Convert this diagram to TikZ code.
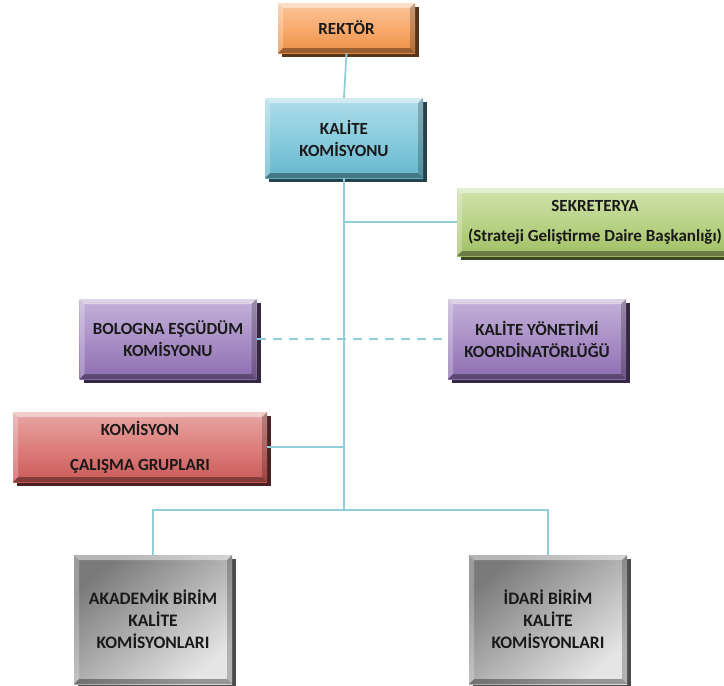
\documentclass[tikz,border=0pt]{standalone}
\usepackage{fontspec}
\setmainfont{Carlito}
\usetikzlibrary{calc,shadows}
\definecolor{lineblue}{HTML}{92CDDC}
\definecolor{corange}{HTML}{F7964A}
\definecolor{cblue}{HTML}{6CC0D6}
\definecolor{cgreen}{HTML}{A9C96A}
\definecolor{cpurple}{HTML}{9474B8}
\definecolor{cred}{HTML}{D45F5C}
\tikzset{
  bevel/.style={path picture={
    \coordinate (pbnw) at (path picture bounding box.north west);
    \coordinate (pbne) at (path picture bounding box.north east);
    \coordinate (pbsw) at (path picture bounding box.south west);
    \coordinate (pbse) at (path picture bounding box.south east);
    \fill[white,opacity=.45] (pbnw) -- (pbne) -- ($(pbne)+(-5,5)$) -- ($(pbnw)+(5,5)$) -- cycle;
    \fill[white,opacity=.25] (pbnw) -- (pbsw) -- ($(pbsw)+(5,-5)$) -- ($(pbnw)+(5,5)$) -- cycle;
    \fill[black,opacity=.22] (pbne) -- (pbse) -- ($(pbse)+(-5,-5)$) -- ($(pbne)+(-5,5)$) -- cycle;
    \fill[black,opacity=.35] (pbsw) -- (pbse) -- ($(pbse)+(-5,-5)$) -- ($(pbsw)+(5,-5)$) -- cycle;
  }},
  orgbox/.style 2 args={rectangle, inner sep=0pt, align=center, text=black!90,
    font=\fontsize{17}{22}\selectfont\bfseries,
    top color=#1!55!white, bottom color=#1!95!black, middle color=#1!80!white,
    drop shadow={shadow xshift=4pt, shadow yshift=-4pt, fill=#1!35!black, opacity=1},
    bevel, #2},
  graybox/.style={rectangle, inner sep=0pt, align=center, text=black!90,
    font=\fontsize{17.5}{22}\selectfont\bfseries,
    top color=black!52, middle color=black!35, bottom color=black!10, shading angle=40,
    drop shadow={shadow xshift=4pt, shadow yshift=-4pt, fill=black!70, opacity=1},
    bevel},
  conn/.style={draw=lineblue, line width=1.8pt},
}
\begin{document}
\begin{tikzpicture}[x=1pt,y=-1pt]
\useasboundingbox (0,0) rectangle (724,686);
\clip (0,0) rectangle (724,686);
% nodes
\node[orgbox={corange}{minimum width=137pt, minimum height=50pt}] (rektor) at (346.5,28) {REKTÖR};
\node[orgbox={cblue}{minimum width=158pt, minimum height=80pt}] (kalite) at (344,138) {KALİTE\\KOMİSYONU};
\node[orgbox={cgreen}{minimum width=276pt, minimum height=68pt}] (sek) at (595,222) {SEKRETERYA\\[8pt](Strateji Geliştirme Daire Başkanlığı)};
\node[orgbox={cpurple}{minimum width=177pt, minimum height=80pt}] (bol) at (168,339) {BOLOGNA EŞGÜDÜM\\KOMİSYONU};
\node[orgbox={cpurple}{minimum width=178pt, minimum height=80pt}] (kyk) at (537,339) {KALİTE YÖNETİMİ\\KOORDİNATÖRLÜĞÜ};
\node[orgbox={cred}{minimum width=254pt, minimum height=70pt}] (kom) at (140,447) {KOMİSYON\\[13pt]ÇALIŞMA GRUPLARI};
\node[graybox, minimum width=158pt, minimum height=129pt] (akd) at (153,619.5) {AKADEMİK BİRİM\\KALİTE\\KOMİSYONLARI};
\node[graybox, minimum width=158pt, minimum height=129pt] (idr) at (548,619.5) {İDARİ BİRİM\\KALİTE\\KOMİSYONLARI};
\coordinate (bus) at (344,510);
% connectors
\draw[conn] (rektor.south) -- (kalite.north);
\draw[conn] (kalite.south) -- (bus);
\draw[conn] (sek.west) -- (sek.west -| kalite.south);
\draw[conn] (kom.east) -- (kom.east -| kalite.south);
\draw[conn, dashed, dash pattern=on 9pt off 7pt] (bol.east) -- (kyk.west);
\draw[conn] (akd.north) |- (bus) -| (idr.north);
\end{tikzpicture}
\end{document}
